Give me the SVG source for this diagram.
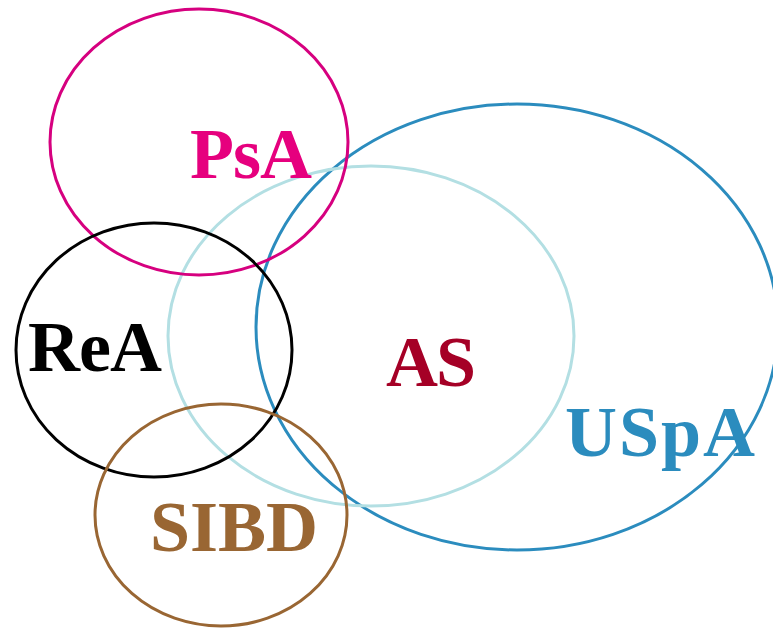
<svg xmlns="http://www.w3.org/2000/svg" width="773" height="628" viewBox="0 0 773 628">
<style>
ellipse{fill:none;stroke-width:3}
text{font-family:"Liberation Serif","Times New Roman",serif;font-weight:bold;font-size:72px}
</style>
<rect width="773" height="628" fill="#fff"/>
<g id="USpA"><ellipse cx="517" cy="327" rx="261" ry="223" stroke="#2b8cbe"/><text x="565" y="456" fill="#2b8cbe" font-size="76" textLength="190" lengthAdjust="spacing">USpA</text></g>
<g id="AS"><ellipse cx="371" cy="336" rx="203" ry="170" stroke="#b3dfe3"/><text x="386" y="386" fill="#a50026" textLength="90" lengthAdjust="spacing">AS</text></g>
<g id="PsA"><ellipse cx="199" cy="142" rx="149" ry="133" stroke="#d6007f"/><text x="190" y="178" fill="#e6007e" textLength="122" lengthAdjust="spacing">PsA</text></g>
<g id="ReA"><ellipse cx="154" cy="350" rx="138" ry="127" stroke="#000"/><text x="28" y="371" fill="#000" textLength="134" lengthAdjust="spacing">ReA</text></g>
<g id="SIBD"><ellipse cx="221" cy="515" rx="126" ry="111" stroke="#996633"/><text x="150" y="551" fill="#996633" font-size="74" textLength="168" lengthAdjust="spacing">SIBD</text></g>
<g id="connectors"></g>
</svg>
